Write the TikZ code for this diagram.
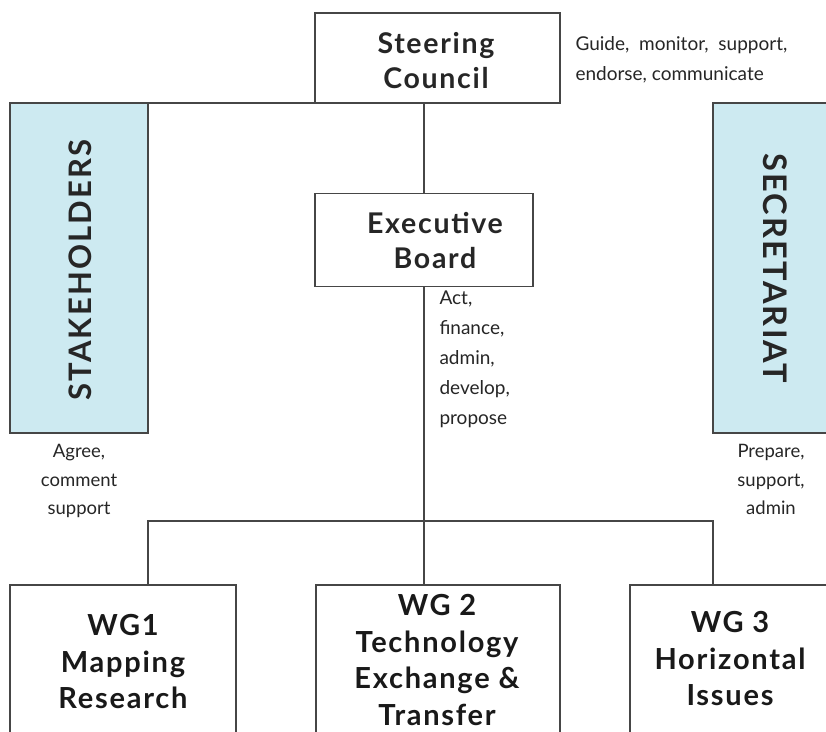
\documentclass[tikz,border=0pt]{standalone}
\usepackage{fontspec}
\setmainfont{Lato}
\newfontfamily\titlefont[LetterSpace=6]{Lato}
\newfontfamily\sidefont[LetterSpace=7]{Lato}
\definecolor{boxblue}{RGB}{205,234,241}
\definecolor{linegray}{RGB}{70,70,70}
\begin{document}
\begin{tikzpicture}[x=1pt,y=-1pt,
  box/.style={draw=linegray,line width=1.8pt,fill=white,inner sep=0pt,outer sep=0pt},
  sidebox/.style={box,fill=boxblue},
  conn/.style={draw=linegray,line width=1.8pt},
  title/.style={font=\titlefont\bfseries\fontsize{28.5}{35}\selectfont,align=center,text=black!85},
  side/.style={text=black!85},
  note/.style={font=\fontsize{19}{30}\selectfont,text=black!85},
  wg/.style={font=\titlefont\bfseries\fontsize{29}{36.5}\selectfont,align=center,text=black!90}]
\useasboundingbox (0,0) rectangle (826,731);
\clip (0,0) rectangle (826,731);
\fill[white] (0,0) rectangle (826,731);
% boxes
\node[box, minimum width=245pt, minimum height=90pt] (sc) at (437.5,58) {};
\node[title] (sct) at (436,61) {Steering\\Council};
\node[box, minimum width=218pt, minimum height=93pt] (eb) at (424,240) {};
\node[title] (ebt) at (435,241) {Executive\\Board};
\node[sidebox, minimum width=138pt, minimum height=330pt] (stk) at (79,268) {};
\node[side, font={\sidefont\bfseries\fontsize{31}{31}\selectfont}, rotate=90] (stkt) at (80,270) {STAKEHOLDERS};
\node[sidebox, minimum width=125pt, minimum height=330pt] (sec) at (775.5,268) {};
\node[side, font={\sidefont\bfseries\fontsize{32.5}{32.5}\selectfont}, rotate=-90] (sect) at (775,268) {SECRETARIAT};
\node[box, minimum width=226pt, minimum height=180pt, anchor=north west] (wg1) at (10,585) {};
\node[box, minimum width=244pt, minimum height=180pt, anchor=north west] (wg2) at (316,585) {};
\node[box, minimum width=200pt, minimum height=180pt, anchor=north west] (wg3) at (630,585) {};
\node[wg] (wg1t) at (123,662) {WG1\\Mapping\\Research};
\node[wg] (wg2t) at (437,660) {WG 2\\Technology\\Exchange \&\\Transfer};
\node[wg] (wg3t) at (730,659) {WG 3\\Horizontal\\Issues};
% notes
\node[note, align=left, anchor=west] (scn) at (572,60) {Guide,\ \ monitor,\ \ support,\\endorse, communicate};
\node[note, align=left, anchor=north west] (ebn) at (436,287) {Act,\\finance,\\admin,\\develop,\\propose};
\node[note, align=center, anchor=north, font=\fontsize{18.5}{28.5}\selectfont] (stkn) at (79,441) {Agree,\\comment\\support};
\node[note, align=center, anchor=north, font=\fontsize{18.5}{28.5}\selectfont] (secn) at (771,441) {Prepare,\\support,\\admin};
% connectors
\coordinate (busL) at (148,521);
\coordinate (busR) at (713,521);
\draw[conn] (stk.north east) -- (sc.south west);
\draw[conn] (eb.north) -- (eb.north |- sc.south);
\draw[conn] (eb.south) -- (eb.south |- wg2.north);
\draw[conn] (wg1.north -| busL) -- (busL) -- (busR) -- (wg3.north -| busR);
\end{tikzpicture}
\end{document}
